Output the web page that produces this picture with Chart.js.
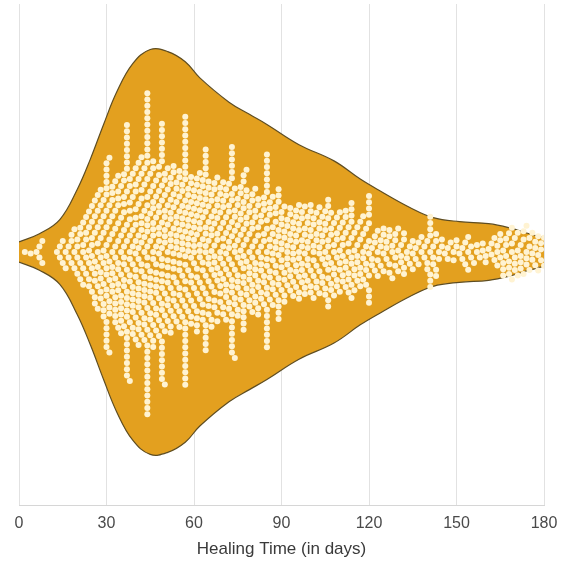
<!DOCTYPE html>
<html>
<head>
<meta charset="utf-8">
<script src="https://cdn.jsdelivr.net/npm/chart.js@4.4.1/dist/chart.umd.min.js"></script>
<style>
  html, body { margin: 0; padding: 0; background: #fff; }
  #wrap { width: 564px; height: 564px; }
</style>
</head>
<body>
<div id="wrap"><canvas id="healing_canvas"></canvas></div>
<script>
// Heilungsdauer (Tage) und Anzahl Patienten je Tag
const healingDays = [
  2, 4, 6, 7, 8,
  13, 14, 15, 16, 17, 18, 19,
  20, 21, 22, 23, 24, 25, 26, 27, 28, 29,
  30, 31, 32, 33, 34, 35, 36, 37, 38, 39,
  40, 41, 42, 43, 44, 45, 46, 47, 48, 49,
  50, 51, 52, 53, 54, 55, 56, 57, 58, 59,
  60, 61, 62, 63, 64, 65, 66, 67, 68, 69,
  70, 71, 72, 73, 74, 75, 76, 77, 78, 79,
  80, 81, 82, 83, 84, 85, 86, 87, 88, 89,
  90, 91, 92, 93, 94, 95, 96, 97, 98, 99,
  100, 101, 102, 103, 104, 105, 106, 107, 108, 109,
  110, 111, 112, 113, 114, 115, 116, 117, 118, 119,
  120, 121, 122, 123, 124, 125, 126, 127, 128, 129,
  130, 131, 132, 133, 134, 135, 136, 137, 138, 139,
  140, 141, 142, 143, 144, 145, 146, 147, 148, 149,
  150, 151, 152, 153, 154, 155, 156, 157, 158, 159,
  160, 161, 162, 163, 164, 165, 166, 167, 168, 169,
  170, 171, 172, 173, 174, 175, 176, 177, 178, 179, 180
];
const patientCounts = [
  1, 1, 1, 2, 2,
  1, 2, 2, 2, 2, 3, 3,
  4, 4, 5, 5, 6, 7, 8, 8, 9, 9,
  19, 10, 10, 11, 11, 11, 12, 25, 12, 12,
  12, 14, 12, 13, 35, 12, 14, 12, 12, 26,
  12, 12, 12, 12, 11, 12, 11, 30, 11, 11,
  11, 12, 11, 11, 19, 11, 10, 11, 10, 10,
  10, 10, 10, 21, 10, 10, 9, 15, 9, 9,
  9, 9, 9, 8, 8, 21, 8, 8, 8, 12,
  8, 7, 7, 7, 7, 7, 8, 7, 7, 7,
  7, 7, 6, 7, 6, 7, 10, 6, 6, 6,
  6, 6, 6, 6, 9, 5, 5, 5, 5, 5,
  11, 3, 3, 4, 3, 4, 3, 4, 3, 4,
  3, 3, 4, 2, 2, 3, 2, 2, 2, 2,
  3, 8, 3, 4, 2, 2, 1, 2, 1, 2,
  2, 1, 2, 2, 3, 2, 1, 2, 1, 2,
  2, 1, 2, 2, 3, 3, 4, 3, 4, 4,
  4, 3, 4, 3, 4, 3, 3, 3, 3, 3, 2
];

// Violin-Umriss: relative Dichte (Maximum = 1)
const violinDays = [0, 7, 14, 20, 24.5, 29, 33.5, 39, 45, 51, 57, 62, 72, 79, 85, 96, 108, 117, 124, 134, 142, 151, 161, 168, 175, 180];
const violinDensity = [0.05, 0.09, 0.16, 0.31, 0.46, 0.63, 0.79, 0.93, 1.00, 0.99, 0.94, 0.86, 0.74, 0.68, 0.63, 0.53, 0.45, 0.36, 0.30, 0.22, 0.17, 0.15, 0.14, 0.12, 0.09, 0.07];

const xTicks = [0, 30, 60, 90, 120, 150, 180];

const dotRadius = 3;

Chart.defaults.font.family = '"Liberation Sans", Arial, sans-serif';

// Beeswarm: jeder Punkt an die naechste freie Stelle zur Mittellinie
function layoutSwarm(chart) {
  const xs = chart.scales.x;
  const ys = chart.scales.y;
  const mid = ys.getPixelForValue(0);
  const d = dotRadius * 2;
  const placed = [];
  const out = [];
  let start = 0;
  healingDays.forEach((day, i) => {
    const px = xs.getPixelForValue(day);
    for (let k = 0; k < patientCounts[i]; k++) {
      while (start < placed.length && px - placed[start].px >= d) start++;
      const nb = placed.slice(start);
      const cands = [0];
      nb.forEach(p => {
        const dx = px - p.px;
        const dy = Math.sqrt(Math.max(d * d - dx * dx, 0)) * 1.05;
        cands.push(p.py + dy, p.py - dy);
      });
      cands.sort((a, b) => Math.abs(a) - Math.abs(b));
      const py = cands.find(c => nb.every(p => (px - p.px) ** 2 + (c - p.py) ** 2 >= d * d - 0.01));
      placed.push({ px, py });
      out.push({ x: day, y: ys.getValueForPixel(mid + py) });
    }
  });
  return out;
}

const upper = violinDays.map((d, i) => ({ x: d, y: violinDensity[i] }));
const lower = violinDays.map((d, i) => ({ x: d, y: -violinDensity[i] }));

const ctx = document.getElementById('healing_canvas');
const chart = new Chart(ctx, {
  type: 'scatter',
  data: {
    datasets: [
      {
        data: upper,
        showLine: true,
        borderColor: '#5e4d22',
        borderWidth: 1.2,
        pointRadius: 0,
        tension: 0.4,
        fill: false,
        order: 2
      },
      {
        data: lower,
        showLine: true,
        borderColor: '#5e4d22',
        borderWidth: 1.2,
        backgroundColor: '#E3A01F',
        pointRadius: 0,
        tension: 0.4,
        fill: '-1',
        order: 1
      },
      {
        data: [],
        pointRadius: dotRadius,
        pointBorderWidth: 0,
        pointBackgroundColor: '#FFF3D2',
        order: 0
      }
    ]
  },
  options: {
    responsive: true,
    maintainAspectRatio: false,
    animation: false,
    layout: {
      padding: { left: 19, right: 20, top: 0, bottom: 0 }
    },
    scales: {
      x: {
        type: 'linear',
        min: 0,
        max: 180,
        afterBuildTicks: scale => { scale.ticks = xTicks.map(v => ({ value: v })); },
        afterFit: scale => {
          scale.height = 59;
          scale.paddingLeft = 0;
          scale.paddingRight = 0;
        },
        grid: { color: '#e2e2e2', lineWidth: 1, drawTicks: false },
        border: { color: '#d6d6d6', width: 1 },
        ticks: { color: '#4a4a4a', font: { size: 16 }, padding: 9 },
        title: {
          display: true,
          text: 'Healing Time (in days)',
          color: '#3a3a3a',
          font: { size: 17 },
          padding: { top: 5, bottom: 4 }
        }
      },
      y: {
        display: false,
        min: -1.25,
        max: 1.225
      }
    },
    plugins: {
      legend: { display: false },
      tooltip: { enabled: false },
      filler: { drawTime: 'beforeDatasetsDraw' }
    }
  }
});

chart.data.datasets[2].data = layoutSwarm(chart);
chart.update('none');
</script>
</body>
</html>
